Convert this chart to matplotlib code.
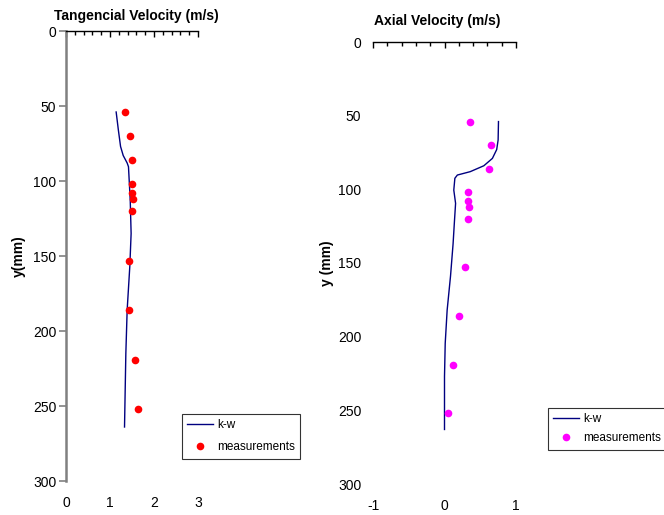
import matplotlib
matplotlib.use("Agg")
import matplotlib.pyplot as plt
from matplotlib.ticker import MultipleLocator
from matplotlib.lines import Line2D

plt.rcParams['font.family'] = ['Liberation Sans', 'DejaVu Sans']
plt.rcParams['axes.unicode_minus'] = False

# Measurement heights (mm)
y_meas = [54, 70, 86, 102, 108, 112, 120, 153, 186, 219, 252]

# Tangential velocity
tang_meas = [1.35, 1.45, 1.49, 1.49, 1.51, 1.52, 1.50, 1.44, 1.44, 1.56, 1.63]
tang_kw_y = [54, 66, 77, 83, 88, 90.5, 113, 135, 157, 186, 215, 264]
tang_kw_v = [1.14, 1.19, 1.24, 1.30, 1.39, 1.42, 1.46, 1.48, 1.45, 1.39, 1.36, 1.33]

# Axial velocity
axial_meas = [0.35, 0.65, 0.62, 0.33, 0.33, 0.34, 0.33, 0.28, 0.20, 0.12, 0.05]
axial_kw_y = [54, 66.5, 73, 79, 84, 88, 90.3, 92.5, 100.5, 109.5, 121, 137, 159,
              182, 204.5, 227, 263]
axial_kw_v = [0.755, 0.75, 0.73, 0.67, 0.55, 0.36, 0.18, 0.145, 0.13, 0.155, 0.14,
              0.12, 0.084, 0.037, 0.01, 0.0, 0.0]

W, H = 664, 515
fig = plt.figure(figsize=(W / 100, H / 100), dpi=100)
FS = 10


def px_axes(x0, x1, ytop, ybot):
    return fig.add_axes([x0 / W, 1 - ybot / H, (x1 - x0) / W, (ybot - ytop) / H])


def style(ax, xmin, xmax, show_yaxis):
    ax.set_xlim(xmin, xmax)
    ax.set_ylim(300, 0)
    ax.xaxis.set_major_locator(MultipleLocator(1))
    ax.xaxis.set_minor_locator(MultipleLocator(0.2))
    ax.yaxis.set_major_locator(MultipleLocator(50))
    ax.spines['right'].set_visible(False)
    ax.spines['bottom'].set_visible(False)
    ax.spines['top'].set_color('black')
    ax.spines['top'].set_linewidth(1.0)
    ax.tick_params(axis='x', which='both', top=True, bottom=False,
                   labeltop=False, labelbottom=True, direction='in',
                   labelsize=FS, pad=11, color='black', width=1.0)
    ax.tick_params(axis='x', which='major', length=4)
    ax.tick_params(axis='x', which='minor', length=3)
    if show_yaxis:
        ax.spines['left'].set_color('#808080')
        ax.spines['left'].set_linewidth(1.8)
        ax.tick_params(axis='y', which='major', left=True, direction='out',
                       length=5, width=1.2, color='#808080', labelsize=FS, pad=2)
    else:
        ax.spines['left'].set_visible(False)
        ax.tick_params(axis='y', which='major', left=False, labelsize=FS, pad=5)
    ax.set_facecolor('none')


# Tangential velocity panel
ax1 = px_axes(66, 198, 31, 481)
style(ax1, 0, 3, True)
ax1.plot(tang_kw_v, tang_kw_y, color='#000080', lw=1.0, label='k-w')
ax1.plot(tang_meas, y_meas, 'o', color='#FF0000', ms=5.5, mec='none',
         label='measurements')
ax1.set_title('Tangencial Velocity (m/s)', fontsize=FS, fontweight='bold', pad=8,
              x=0.53)
ax1.set_ylabel('y(mm)', fontsize=FS, fontweight='bold', labelpad=5)

# Axial velocity panel
ax2 = px_axes(373, 516, 42, 484)
style(ax2, -1, 1, False)
ax2.plot(axial_kw_v, axial_kw_y, color='#000080', lw=1.0, label='k-w')
ax2.plot(axial_meas, y_meas, 'o', color='#FF00FF', ms=5.5, mec='none',
         label='measurements')
ax2.set_title('Axial Velocity (m/s)', fontsize=FS, fontweight='bold', pad=12,
              x=0.45)
ax2.set_ylabel('y (mm)', fontsize=FS, fontweight='bold', labelpad=3)


def add_legend(color, x0, ytop, spacing):
    handles = [Line2D([], [], color='#000080', lw=1.0),
               Line2D([], [], ls='none', marker='o', color=color, ms=5.5, mec='none')]
    leg = fig.legend(handles, ['k-w', 'measurements'], loc='upper left',
                     bbox_to_anchor=(x0 / W, 1 - ytop / H), fontsize=8.5,
                     frameon=True, fancybox=False, handlelength=2.2,
                     handletextpad=0.3, borderpad=0.45, labelspacing=spacing,
                     borderaxespad=0)
    fr = leg.get_frame()
    fr.set_edgecolor('black')
    fr.set_linewidth(0.8)
    return leg


add_legend('#FF0000', 182, 414, 0.85)
add_legend('#FF00FF', 548, 408, 0.6)

fig.savefig('out.png', dpi=100, facecolor='white')
